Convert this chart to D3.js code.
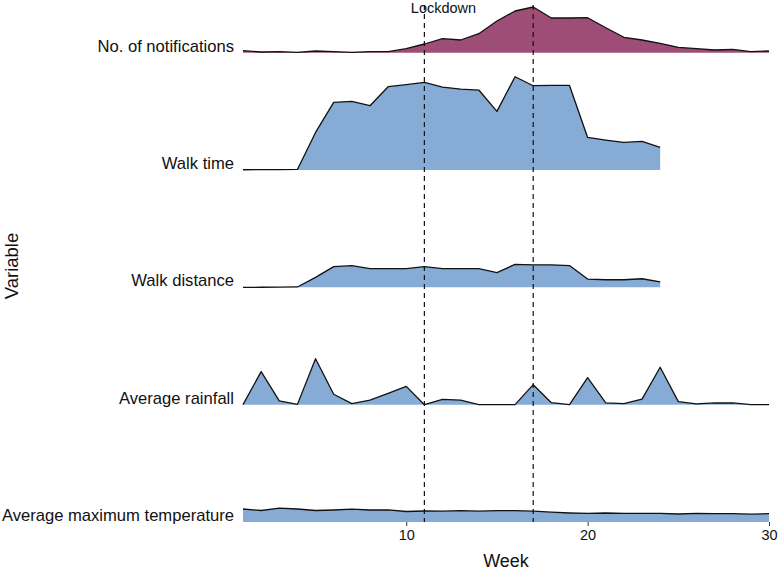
<!DOCTYPE html>
<html>
<head>
<meta charset="utf-8">
<script src="https://cdn.jsdelivr.net/npm/d3@7"></script>
<style>
  body { margin: 0; background: #fff; }
  text { font-family: "Liberation Sans", Arial, Helvetica, sans-serif; }
</style>
</head>
<body>
<div id="chart-area"></div>
<script>
var width = 780;
var height = 572;

// data
var variables = ["No. of notifications", "Walk time", "Walk distance", "Average rainfall", "Average maximum temperature"];
var weeks = [1, 2, 3, 4, 5, 6, 7, 8, 9, 10, 11, 12, 13, 14, 15, 16, 17, 18, 19, 20, 21, 22, 23, 24, 25, 26, 27, 28, 29, 30];
var notifications = [2, 0.7, 1, 0.4, 1.7, 1, 0.4, 1, 1, 4, 8.7, 14, 12.7, 19, 31.7, 41.7, 45.7, 34.7, 34.7, 35, 25, 15.4, 12.7, 9.4, 5.4, 4, 2.7, 3.4, 1, 1.7];
var walkTime = [0.3, 0.4, 0.5, 0.6, 37.6, 67.6, 68.6, 64.3, 83.3, 85.3, 87.6, 83, 81, 80, 58.6, 93.3, 84.3, 84.6, 84.6, 32.6, 30, 27.6, 28.6, 22.6];
var walkDistance = [0, 0.1, 0.2, 0.4, 10, 20.7, 21.7, 18.7, 18.7, 18.7, 20.7, 18.7, 18.7, 18.7, 14.7, 23, 22.5, 22.5, 21.8, 8.3, 7.6, 7.6, 8.6, 5.5];
var rainfall = [0, 33, 3.8, 0.3, 46, 10.4, 1, 4.5, 11.4, 18.3, 0, 5.2, 4.5, 0, 0, 0, 20, 2, 0, 27, 1.7, 1, 5.5, 37.4, 3.1, 0.7, 1.7, 1.7, 0, 0];
var maxTemp = [13, 11.5, 13.8, 13, 11.5, 12, 12.8, 12, 12.2, 10.5, 11, 10.8, 11.3, 10.8, 11.3, 11.3, 10.8, 9.8, 9, 8.6, 9, 8.6, 8.6, 8.6, 8, 8.6, 8.3, 8.3, 7.8, 8.3];
var lockdownWeeks = [11, 17];
var xTicks = [10, 20, 30];

var seriesValues = [notifications, walkTime, walkDistance, rainfall, maxTemp];
var fills = ["#9e4d77", "#86acd6", "#86acd6", "#86acd6", "#86acd6"];

var ridges = variables.map(function (v, i) {
	return {
		variable: v,
		fill: fills[i],
		points: seriesValues[i].map(function (val, j) {
			return { week: weeks[j], value: val };
		})
	};
});

var svg = d3.select("#chart-area")
	.append("svg")
	.attr("width", width)
	.attr("height", height);

var xScale = d3.scaleLinear()
	.domain([1, 30])
	.range([243, 769]);

var yScale = d3.scalePoint()
	.domain(variables)
	.range([52.7, 522]);

var hScale = d3.scaleLinear()
	.domain([0, 100])
	.range([0, 100]);

var area = function (base) {
	return d3.area()
		.x(d => xScale(d.week))
		.y0(base)
		.y1(d => base - hScale(d.value));
};
var line = function (base) {
	return d3.line()
		.x(d => xScale(d.week))
		.y(d => base - hScale(d.value));
};

var ridgeG = svg.selectAll(".ridge")
	.data(ridges)
	.enter().append("g")
	.attr("class", "ridge");

ridgeG.append("path")
	.attr("d", d => area(yScale(d.variable))(d.points))
	.attr("fill", d => d.fill)
	.attr("stroke", "none");

ridgeG.append("path")
	.attr("d", d => line(yScale(d.variable))(d.points))
	.attr("fill", "none")
	.attr("stroke", "#111")
	.attr("stroke-width", 1.3)
	.attr("stroke-linejoin", "round");

// lockdown lines
svg.selectAll(".lockdown")
	.data(lockdownWeeks)
	.enter().append("line")
	.attr("class", "lockdown")
	.attr("x1", d => xScale(d))
	.attr("x2", d => xScale(d))
	.attr("y1", 5)
	.attr("y2", 522)
	.attr("stroke", "#111")
	.attr("stroke-width", 1.2)
	.attr("stroke-dasharray", "5,4");

svg.append("text")
	.attr("x", xScale(12) + 1)
	.attr("y", 13)
	.attr("text-anchor", "middle")
	.attr("font-size", "14.5px")
	.attr("fill", "#111")
	.text("Lockdown");

// y labels
svg.selectAll(".ylab")
	.data(variables)
	.enter().append("text")
	.attr("class", "ylab")
	.attr("x", 234)
	.attr("y", d => yScale(d) - 1)
	.attr("text-anchor", "end")
	.attr("font-size", "16.6px")
	.attr("fill", "#111")
	.text(d => d);

// x axis
var xAxis = d3.axisBottom(xScale)
	.tickValues(xTicks)
	.tickSize(4)
	.tickPadding(4);

var xAxisG = svg.append("g")
	.attr("transform", "translate(0,522)")
	.call(xAxis);
xAxisG.select(".domain").remove();
xAxisG.selectAll(".tick line").attr("stroke", "#333");
xAxisG.selectAll(".tick text")
	.attr("font-size", "14.5px")
	.attr("fill", "#111")
	.attr("font-family", "Liberation Sans, Arial, sans-serif");

svg.append("text")
	.attr("x", (xScale(1) + xScale(30)) / 2)
	.attr("y", 567)
	.attr("text-anchor", "middle")
	.attr("font-size", "18px")
	.attr("fill", "#111")
	.text("Week");

svg.append("text")
	.attr("transform", "translate(18," + 266 + ") rotate(-90)")
	.attr("text-anchor", "middle")
	.attr("font-size", "18.5px")
	.attr("fill", "#111")
	.text("Variable");
</script>
</body>
</html>
